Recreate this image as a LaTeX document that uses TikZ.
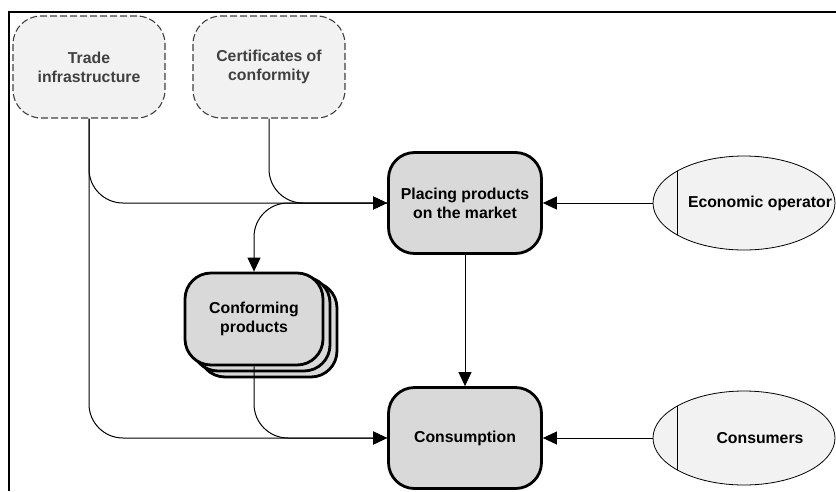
\documentclass[tikz,border=0pt]{standalone}
\usepackage{fontspec}
\setmainfont{Liberation Sans}
\usetikzlibrary{arrows.meta,shapes.geometric}
\definecolor{boxgray}{HTML}{D9D9D9}
\definecolor{palegray}{HTML}{F2F2F2}
\definecolor{inkgray}{HTML}{404040}

\begin{document}
\begin{tikzpicture}[x=1pt,y=-1pt,
  every node/.style={font=\fontsize{15.8}{19}\selectfont\bfseries, align=center, inner sep=0pt},
  source/.style={draw=inkgray, dash pattern=on 7pt off 3pt, line width=1.1pt, fill=palegray,
    rounded corners=28pt, text=inkgray, minimum width=152pt, minimum height=102pt},
  process/.style={draw=black, line width=2.8pt, fill=boxgray, rounded corners=26pt,
    minimum width=153pt, minimum height=101pt},
  stackbox/.style={draw=black, line width=2.8pt, fill=boxgray, rounded corners=26pt},
  actor/.style={ellipse, draw=black, line width=0.8pt, fill=palegray,
    minimum width=182pt, minimum height=94pt},
  conn/.style={draw=black, line width=1pt, -{Triangle[length=14pt,width=13pt]}},
  elbow/.style={rounded corners=34pt},
]
\useasboundingbox (0,0) rectangle (836,491);

% frame edges
\draw[line width=2pt] (836,12) -- (9,12) -- (9,491);

% inputs (dashed)
\node[source] (trade) at (89,67) {Trade\\infrastructure};
\node[source] (cert) at (269,67) {Certificates of\\conformity};

% main processes
\node[process] (placing) at (465,203) {Placing products\\on the market};
\node[process] (consumption) at (465,438) {Consumption};

% stacked products
\draw[stackbox] (199,282) rectangle (337,377);
\draw[stackbox] (192,277) rectangle (330,371);
\node[process, minimum width=138pt, minimum height=92pt] (conforming) at (254,319) {Conforming\\products};

% actors
\node[actor] (operator) at (744,203) {};
\node[actor] (consumers) at (744,438) {};
\begin{scope}
  \clip (operator.center) ellipse [x radius=91pt, y radius=47pt];
  \draw[line width=0.8pt] (677,150) -- (677,260);
\end{scope}
\begin{scope}
  \clip (consumers.center) ellipse [x radius=91pt, y radius=47pt];
  \draw[line width=0.8pt] (677,385) -- (677,495);
\end{scope}
\node (operatorlabel) at (760,203) {Economic operator};
\node (consumerslabel) at (760,438) {Consumers};

% connectors
\draw[conn, elbow] (trade.south) |- (placing.west);
\draw[conn, elbow] (cert.south) |- (placing.west);
\draw[conn, elbow] (placing.west) -| (conforming.north);
\draw[conn, elbow] (trade.south) |- (consumption.west);
\draw[conn, elbow] (conforming.south) |- (consumption.west);
\draw[conn] (placing.south) -- (consumption.north);
\draw[conn] (operator.west) -- (placing.east);
\draw[conn] (consumers.west) -- (consumption.east);
\end{tikzpicture}
\end{document}
